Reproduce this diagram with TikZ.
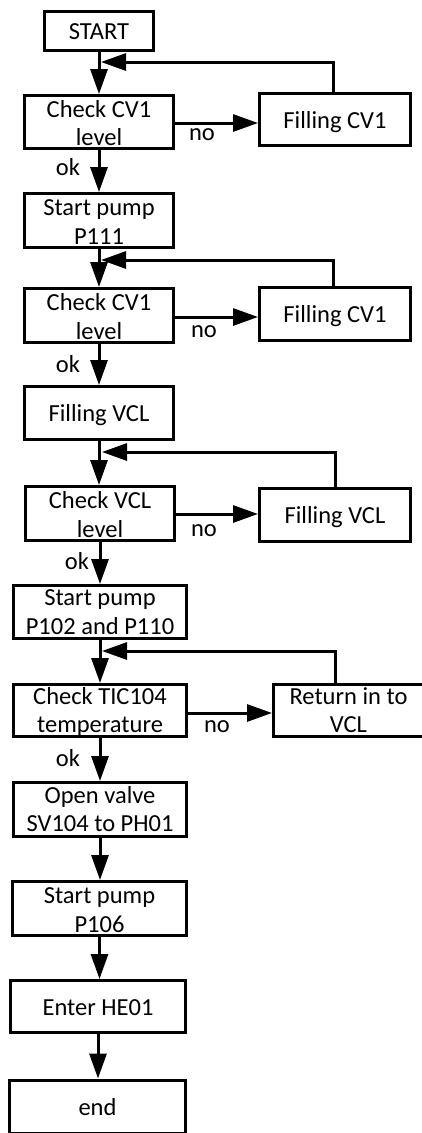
\documentclass[tikz,border=0pt]{standalone}
\usepackage{fontspec}
\setmainfont{Carlito}
\usetikzlibrary{arrows.meta}
\begin{document}
\begin{tikzpicture}[x=1pt,y=-1pt,
  box/.style={draw,line width=3pt,rectangle,inner sep=0pt,align=center,
    font=\fontsize{24.5}{28.5}\selectfont,text height=22pt,text depth=5pt},
  two/.style={text height=48pt,text depth=1pt},
  twolow/.style={text height=45pt,text depth=1pt},
  arr/.style={line width=3pt,-{Triangle[length=25pt,width=17pt]}},
  lbl/.style={anchor=base,inner sep=0pt,font=\fontsize{24.5}{29}\selectfont}]
\useasboundingbox (0,0) rectangle (422,1133);
\clip (0,0) rectangle (422,1133);
% main column
\node[box,minimum width=109pt,minimum height=39pt] (start) at (99,31) {START};
\node[box,two,minimum width=149pt,minimum height=53pt] (check1) at (99,122) {Check CV1\\level};
\node[box,minimum width=151pt,minimum height=52pt] (fill1) at (335,119.5) {Filling CV1};
\node[box,two,minimum width=149pt,minimum height=54pt] (pump1) at (99,220.5) {Start pump\\P111};
\node[box,two,minimum width=149pt,minimum height=54pt] (check2) at (99,315.5) {Check CV1\\level};
\node[box,minimum width=151pt,minimum height=53pt] (fill2) at (335,314) {Filling CV1};
\node[box,minimum width=149pt,minimum height=53pt] (fillvcl) at (99,413) {Filling VCL};
\node[box,two,minimum width=149pt,minimum height=54pt] (checkvcl) at (100,513.5) {Check VCL\\level};
\node[box,minimum width=151pt,minimum height=53pt] (fillvcl2) at (335,515) {Filling VCL};
\node[box,twolow,minimum width=173pt,minimum height=53pt] (pump2) at (100,612) {Start pump\\P102 and P110};
\node[box,twolow,minimum width=173pt,minimum height=52pt] (checktic) at (100,710.5) {Check TIC104\\temperature};
\node[box,twolow,minimum width=150pt,minimum height=52pt] (ret) at (348.5,710.5) {Return in to\\VCL};
\node[box,twolow,minimum width=173pt,minimum height=54pt] (valve) at (100,809.5) {Open valve\\SV104 to PH01};
\node[box,two,minimum width=174pt,minimum height=54pt] (pump3) at (99.5,908.5) {Start pump\\P106};
\node[box,minimum width=175pt,minimum height=52pt] (enter) at (98,1006.5) {Enter HE01};
\node[box,minimum width=176pt,minimum height=53pt] (endb) at (97.5,1106.5) {end};
% merge points of the feedback loops
\coordinate (m1) at (101,62);
\coordinate (m2) at (101,260);
\coordinate (m3) at (102,452);
\coordinate (m4) at (102,651);
% down arrows
\draw[arr] (start.south) -- (start.south |- check1.north);
\draw[arr] (check1.south) -- (check1.south |- pump1.north);
\draw[arr] (pump1.south) -- (pump1.south |- check2.north);
\draw[arr] (check2.south) -- (check2.south |- fillvcl.north);
\draw[arr] (fillvcl.south) -- (fillvcl.south |- checkvcl.north);
\draw[arr] (checkvcl.south) -- (checkvcl.south |- pump2.north);
\draw[arr] (pump2.south) -- (pump2.south |- checktic.north);
\draw[arr] (checktic.south) -- (checktic.south |- valve.north);
\draw[arr] (valve.south) -- (valve.south |- pump3.north);
\draw[arr] (pump3.south) -- (pump3.south |- enter.north);
\draw[arr] (enter.south) -- (enter.south |- endb.north);
% no arrows
\draw[arr] ([yshift=-1pt]check1.east) -- ([yshift=-1pt]check1.east -| fill1.west);
\draw[arr] ([yshift=-1.5pt]check2.east) -- ([yshift=-1.5pt]check2.east -| fill2.west);
\draw[arr] ([yshift=-0.5pt]checkvcl.east) -- ([yshift=-0.5pt]checkvcl.east -| fillvcl2.west);
\draw[arr] ([yshift=-2.5pt]checktic.east) -- ([yshift=-2.5pt]checktic.east -| ret.west);
% feedback loops
\draw[arr] ([xshift=-2pt]fill1.north) |- (m1);
\draw[arr] ([xshift=-2pt]fill2.north) |- (m2);
\draw[arr] (fillvcl2.north) |- (m3);
\draw[arr] ([xshift=-13.5pt]ret.north) |- (m4);
% labels
\node[lbl] (no1) at (202,140) {no};
\node[lbl] (no2) at (204,337) {no};
\node[lbl] (no3) at (204,536) {no};
\node[lbl] (no4) at (217,732) {no};
\node[lbl] (ok1) at (68,175) {ok};
\node[lbl] (ok2) at (68,372) {ok};
\node[lbl] (ok3) at (77,569) {ok};
\node[lbl] (ok4) at (68,766) {ok};
\end{tikzpicture}
\end{document}
